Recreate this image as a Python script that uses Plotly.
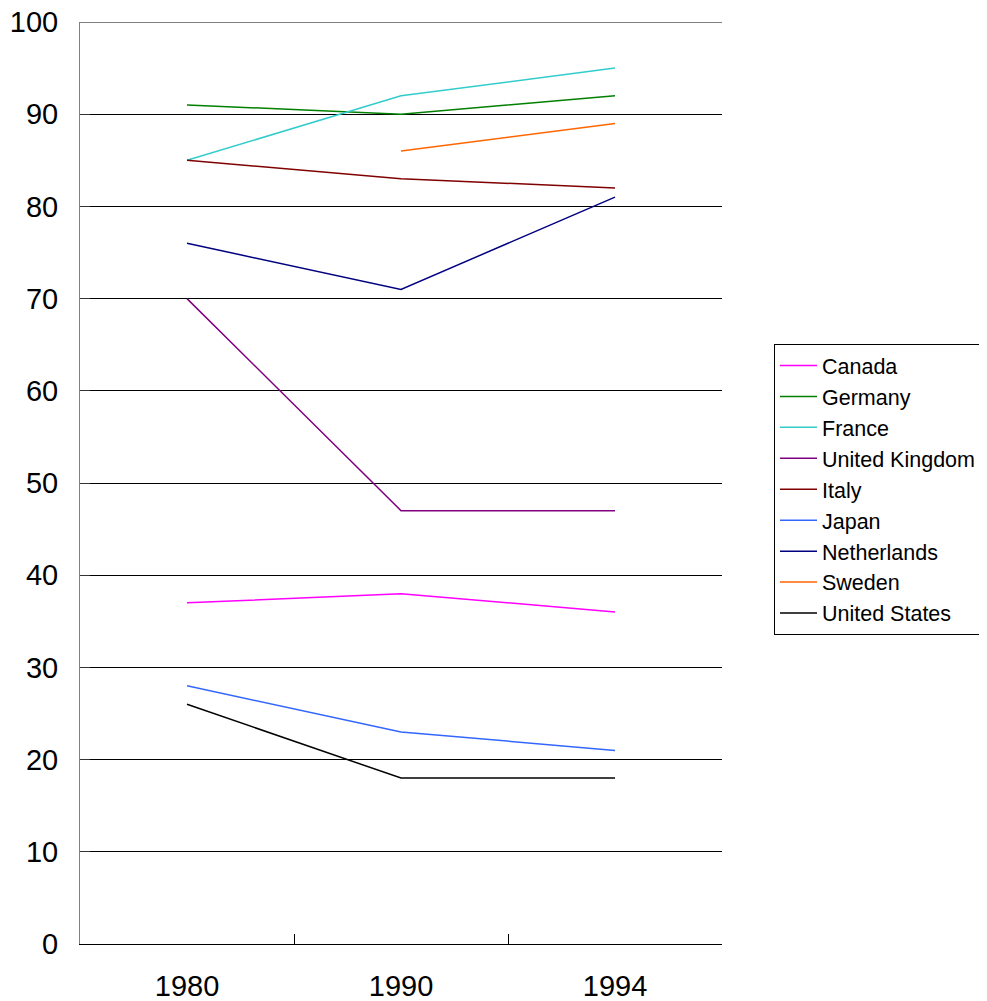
import plotly.graph_objects as go

years = ["1980", "1990", "1994"]
countries = ["Canada", "Germany", "France", "United Kingdom", "Italy", "Japan",
             "Netherlands", "Sweden", "United States"]
canada = [37, 38, 36]
germany = [91, 90, 92]
france = [85, 92, 95]
united_kingdom = [70, 47, 47]
italy = [85, 83, 82]
japan = [28, 23, 21]
netherlands = [76, 71, 81]
sweden = [None, 86, 89]
united_states = [26, 18, 18]
series = [canada, germany, france, united_kingdom, italy, japan,
          netherlands, sweden, united_states]
colors = ["#FF00FF", "#008000", "#33CCCC", "#800080", "#800000", "#3366FF",
          "#000080", "#FF6600", "#000000"]
y_max = 100

fig = go.Figure()
for name, vals, c in zip(countries, series, colors):
    fig.add_trace(go.Scatter(x=years, y=vals, name=name, mode="lines",
                             line=dict(color=c, width=1.5), connectgaps=False))

# top gridline (Plotly drops the gridline that sits on the range edge)
fig.add_shape(type="line", xref="x domain", x0=0, x1=1, yref="y",
              y0=y_max, y1=y_max, line=dict(color="black", width=1), layer="below")

fig.update_layout(
    width=987, height=1001,
    margin=dict(l=72, r=273, t=14, b=65, autoexpand=False),
    plot_bgcolor="white", paper_bgcolor="white",
    font=dict(family="Liberation Sans, Arial, sans-serif", color="black"),
    legend=dict(x=1.081, y=0.6508, xanchor="left", yanchor="top",
                bordercolor="black", borderwidth=1,
                font=dict(size=21.5), tracegroupgap=0,
                itemwidth=37, traceorder="normal"),
    showlegend=True,
)
fig.update_xaxes(type="category", range=[-0.5, 2.5], showgrid=False,
                 automargin=False,
                 showline=True, linecolor="black", linewidth=1,
                 ticks="inside", ticklen=10, tickcolor="black",
                 tickson="boundaries", tickfont=dict(size=29), ticklabelstandoff=16)
fig.update_yaxes(range=[0, y_max], dtick=10, showgrid=True, gridcolor="black",
                 automargin=False, ticklabeloverflow="allow",
                 gridwidth=1, showline=True, linecolor="gray", linewidth=1,
                 ticks="inside", ticklen=10, tickcolor="#333333",
                 zeroline=False, tickfont=dict(size=29),
                 ticklabelstandoff=15)

fig.write_html("out.html")
